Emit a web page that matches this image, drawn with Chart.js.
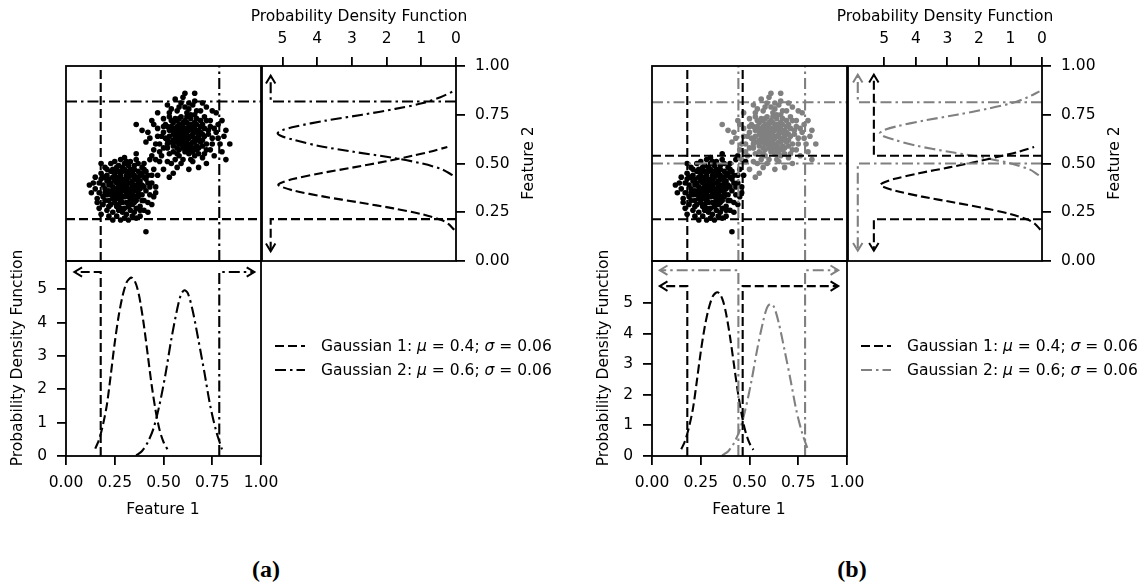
<!DOCTYPE html>
<html>
<head>
<meta charset="utf-8">
<script src="https://cdn.jsdelivr.net/npm/chart.js@4.4.1/dist/chart.umd.min.js"></script>
<style>
  body { margin: 0; width: 1141px; height: 588px; position: relative; overflow: hidden; background: #fff; font-family: "DejaVu Sans", sans-serif; }
  canvas { position: absolute; }
  .txt { position: absolute; font-size: 15.5px; white-space: nowrap; color: #000; transform: translate(-50%, -50%); }
  .rot { transform: translate(-50%, -50%) rotate(-90deg); }
  .leg { position: absolute; font-size: 15.5px; white-space: nowrap; display: flex; align-items: center; height: 20px; }
  .leg svg { margin-right: 16px; }
  .cap { position: absolute; transform: translate(-50%, -50%); font-family: "Liberation Serif", "DejaVu Serif", serif; font-weight: bold; font-size: 24px; }
</style>
</head>
<body>
<script>
// ---- scatter samples (Feature 1, Feature 2), same samples in both panels ----
const CLUSTER1 = [
  [0.31,0.38],[0.27,0.42],[0.35,0.33],[0.22,0.36],[0.29,0.30],[0.38,0.41],[0.25,0.45],[0.33,0.47],[0.19,0.39],[0.30,0.27],
  [0.36,0.36],[0.24,0.32],[0.28,0.35],[0.32,0.43],[0.40,0.38],[0.21,0.44],[0.26,0.28],[0.34,0.29],[0.17,0.35],[0.30,0.50],
  [0.37,0.46],[0.23,0.40],[0.29,0.39],[0.33,0.37],[0.27,0.33],[0.42,0.44],[0.20,0.31],[0.31,0.24],[0.25,0.37],[0.36,0.31],
  [0.28,0.44],[0.34,0.41],[0.22,0.28],[0.39,0.34],[0.26,0.48],[0.32,0.33],[0.30,0.36],[0.18,0.42],[0.35,0.44],[0.24,0.25],
  [0.29,0.46],[0.41,0.36],[0.27,0.38],[0.33,0.26],[0.21,0.34],[0.37,0.39],[0.25,0.41],[0.31,0.30],[0.15,0.37],[0.44,0.40],
  [0.28,0.31],[0.35,0.49],[0.23,0.46],[0.32,0.40],[0.19,0.29],[0.38,0.28],[0.26,0.35],[0.30,0.42],[0.34,0.35],[0.22,0.39],
  [0.29,0.33],[0.36,0.42],[0.24,0.43],[0.40,0.31],[0.27,0.29],[0.31,0.46],[0.20,0.37],[0.33,0.31],[0.37,0.35],[0.25,0.30],
  [0.28,0.40],[0.16,0.32],[0.34,0.38],[0.30,0.33],[0.23,0.34],[0.39,0.45],[0.26,0.43],[0.32,0.28],[0.21,0.41],[0.35,0.39],
  [0.43,0.34],[0.27,0.46],[0.29,0.25],[0.18,0.45],[0.33,0.44],[0.24,0.38],[0.36,0.27],[0.30,0.39],[0.22,0.31],[0.38,0.37],
  [0.26,0.32],[0.31,0.35],[0.14,0.40],[0.35,0.33],[0.28,0.42],[0.41,0.42],[0.23,0.29],[0.32,0.49],[0.19,0.33],[0.37,0.43],
  [0.25,0.35],[0.46,0.38],[0.29,0.37],[0.34,0.32],[0.20,0.43],[0.27,0.36],[0.39,0.39],[0.31,0.41],[0.24,0.47],[0.33,0.34],
  [0.45,0.47],[0.40,0.50],[0.43,0.52],[0.36,0.52],[0.47,0.44],[0.13,0.35],[0.17,0.27],[0.22,0.23],[0.28,0.21],[0.34,0.23],
  [0.40,0.26],[0.41,0.15],[0.30,0.53],[0.25,0.51],[0.20,0.48],[0.15,0.43],[0.42,0.30],[0.38,0.23],[0.32,0.21],[0.26,0.23],
  [0.44,0.54],[0.48,0.51],[0.36,0.55],[0.18,0.50],[0.12,0.39],[0.27,0.26],[0.35,0.25],[0.40,0.47],[0.21,0.26],[0.45,0.33],
  [0.33,0.40],[0.35,0.42],[0.31,0.44],[0.37,0.40],[0.29,0.41],[0.34,0.45],[0.36,0.38],[0.32,0.36],[0.38,0.44],[0.30,0.47],
  [0.27,0.49],[0.33,0.51],[0.39,0.48],[0.41,0.46],[0.35,0.47],[0.28,0.52],[0.23,0.50],[0.21,0.47],[0.19,0.43],[0.17,0.40],
  [0.16,0.30],[0.18,0.24],[0.24,0.21],[0.30,0.22],[0.36,0.22],[0.42,0.25],[0.44,0.29],[0.46,0.35],[0.43,0.38],[0.39,0.31],
  [0.37,0.33],[0.34,0.36],[0.31,0.39],[0.26,0.40],[0.22,0.42],[0.25,0.33],[0.28,0.27],[0.33,0.29],[0.38,0.26],[0.35,0.30],
  [0.32,0.45],[0.29,0.48],[0.26,0.46],[0.24,0.36],[0.20,0.35],[0.40,0.43],[0.42,0.40],[0.44,0.44],[0.37,0.50],[0.31,0.51]
];
const CLUSTER2 = [
  [0.60,0.64],[0.56,0.68],[0.64,0.60],[0.52,0.62],[0.58,0.57],[0.67,0.66],[0.62,0.71],[0.55,0.59],[0.70,0.62],[0.59,0.74],
  [0.63,0.55],[0.50,0.66],[0.57,0.63],[0.65,0.69],[0.61,0.60],[0.54,0.72],[0.68,0.58],[0.60,0.68],[0.48,0.60],[0.66,0.75],
  [0.53,0.55],[0.62,0.65],[0.58,0.70],[0.71,0.68],[0.56,0.61],[0.64,0.52],[0.59,0.62],[0.51,0.70],[0.69,0.72],[0.61,0.56],
  [0.66,0.63],[0.55,0.65],[0.73,0.65],[0.57,0.77],[0.62,0.61],[0.49,0.64],[0.65,0.58],[0.60,0.71],[0.53,0.67],[0.67,0.70],
  [0.58,0.54],[0.72,0.60],[0.56,0.73],[0.63,0.67],[0.60,0.58],[0.47,0.68],[0.68,0.64],[0.54,0.61],[0.64,0.73],[0.59,0.66],
  [0.75,0.63],[0.52,0.58],[0.61,0.79],[0.66,0.54],[0.57,0.66],[0.70,0.70],[0.55,0.56],[0.63,0.63],[0.50,0.73],[0.62,0.57],
  [0.68,0.67],[0.59,0.69],[0.74,0.69],[0.56,0.64],[0.65,0.61],[0.53,0.76],[0.61,0.66],[0.67,0.59],[0.58,0.60],[0.71,0.74],
  [0.54,0.69],[0.64,0.70],[0.60,0.62],[0.77,0.66],[0.57,0.58],[0.62,0.76],[0.51,0.63],[0.69,0.61],[0.66,0.68],[0.55,0.71],
  [0.63,0.58],[0.59,0.81],[0.72,0.57],[0.58,0.67],[0.48,0.56],[0.65,0.65],[0.61,0.72],[0.56,0.52],[0.70,0.65],[0.60,0.59],
  [0.53,0.64],[0.67,0.73],[0.62,0.68],[0.57,0.61],[0.79,0.60],[0.64,0.64],[0.52,0.69],[0.68,0.55],[0.58,0.73],[0.61,0.63],
  [0.74,0.72],[0.55,0.62],[0.66,0.71],[0.60,0.66],[0.50,0.58],[0.63,0.78],[0.69,0.66],[0.57,0.69],[0.65,0.56],[0.59,0.60],
  [0.36,0.70],[0.42,0.66],[0.41,0.61],[0.45,0.57],[0.44,0.72],[0.47,0.76],[0.52,0.80],[0.56,0.83],[0.61,0.86],[0.66,0.82],
  [0.72,0.79],[0.77,0.76],[0.80,0.72],[0.82,0.67],[0.80,0.56],[0.82,0.52],[0.76,0.54],[0.72,0.50],[0.68,0.48],[0.63,0.47],
  [0.57,0.48],[0.52,0.51],[0.46,0.52],[0.50,0.47],[0.60,0.52],[0.70,0.53],[0.78,0.70],[0.54,0.78],[0.65,0.80],[0.69,0.77],
  [0.53,0.43],[0.55,0.45],
  [0.61,0.65],[0.63,0.69],[0.58,0.64],[0.66,0.61],[0.60,0.70],[0.64,0.75],[0.57,0.72],[0.69,0.69],[0.55,0.67],[0.62,0.59],
  [0.68,0.62],[0.71,0.64],[0.73,0.67],[0.75,0.60],[0.78,0.63],[0.76,0.68],[0.72,0.72],[0.67,0.77],[0.63,0.81],[0.58,0.79],
  [0.53,0.74],[0.50,0.69],[0.47,0.64],[0.46,0.60],[0.49,0.54],[0.54,0.50],[0.59,0.50],[0.65,0.51],[0.71,0.55],[0.74,0.57],
  [0.62,0.63],[0.59,0.68],[0.65,0.67],[0.56,0.62],[0.61,0.58],[0.67,0.57],[0.70,0.59],[0.64,0.56],[0.57,0.55],[0.52,0.60],
  [0.84,0.60],[0.81,0.64],[0.43,0.63],[0.39,0.67],[0.45,0.70],[0.60,0.84],[0.70,0.81],[0.75,0.77],[0.66,0.86],[0.62,0.74]
];

// ---- fitted densities along Feature 1 (bottom plots) ----
const F1_G1_X   = [0.15, 0.17, 0.19, 0.21, 0.23, 0.25, 0.27, 0.29, 0.31, 0.325, 0.337, 0.35, 0.365, 0.38, 0.40, 0.42, 0.44, 0.46, 0.48, 0.50, 0.52];
const F1_G1_PDF = [0.22, 0.50, 0.95, 1.55, 2.45, 3.40, 4.20, 4.80, 5.20, 5.32, 5.35, 5.28, 5.05, 4.65, 3.90, 3.00, 2.10, 1.35, 0.78, 0.42, 0.20];
const F1_G2_X   = [0.36, 0.39, 0.42, 0.45, 0.48, 0.51, 0.54, 0.57, 0.59, 0.607, 0.625, 0.65, 0.68, 0.71, 0.74, 0.77, 0.80];
const F1_G2_PDF = [0.02, 0.15, 0.42, 0.85, 1.55, 2.45, 3.50, 4.40, 4.85, 4.97, 4.88, 4.35, 3.45, 2.50, 1.50, 0.75, 0.20];

// ---- fitted densities along Feature 2 (right plots) ----
const F2_G1_Y   = [0.16, 0.19, 0.21, 0.24, 0.27, 0.30, 0.33, 0.36, 0.38, 0.39, 0.40, 0.42, 0.45, 0.48, 0.51, 0.54, 0.56, 0.585];
const F2_G1_PDF = [0.05, 0.22, 0.42, 0.98, 1.80, 2.78, 3.80, 4.65, 5.02, 5.12, 5.05, 4.70, 3.90, 2.95, 2.05, 1.25, 0.75, 0.25];
const F2_G2_Y   = [0.44, 0.47, 0.50, 0.53, 0.56, 0.59, 0.62, 0.64, 0.655, 0.67, 0.69, 0.72, 0.75, 0.78, 0.81, 0.84, 0.87];
const F2_G2_PDF = [0.10, 0.40, 0.98, 1.85, 2.95, 3.95, 4.65, 5.02, 5.14, 5.02, 4.62, 3.75, 2.70, 1.75, 0.95, 0.45, 0.08];

// ---- decision cuts: value, feature, gaussian, arrow level (pdf), arrow tip ----
const A_CUT_VALUE   = [0.178, 0.786, 0.215, 0.818];
const A_CUT_FEATURE = [1, 1, 2, 2];
const A_CUT_GAUSS   = [1, 2, 1, 2];
const A_CUT_LEVEL   = [5.52, 5.52, 5.34, 5.34];
const A_CUT_TIP     = [0.043, 0.966, 0.05, 0.95];

const B_CUT_VALUE   = [0.181, 0.465, 0.443, 0.785, 0.214, 0.540, 0.500, 0.814];
const B_CUT_FEATURE = [1, 1, 1, 1, 2, 2, 2, 2];
const B_CUT_GAUSS   = [1, 1, 2, 2, 1, 1, 2, 2];
const B_CUT_LEVEL   = [5.55, 5.55, 6.07, 6.07, 5.33, 5.33, 5.84, 5.84];
const B_CUT_TIP     = [0.04, 0.955, 0.04, 0.955, 0.053, 0.955, 0.053, 0.955];

// pdf axis limits: [bottom plot y max, right plot x max]
const A_PDF_MAX = [5.85, 5.59];
const B_PDF_MAX = [6.37, 6.15];
const PDF_TICKS_MAX = 5;

const PDF_TITLE = 'Probability Density Function';
const LEGEND_LABELS = ['Gaussian 1: <i>μ</i> = 0.4; <i>σ</i> = 0.06', 'Gaussian 2: <i>μ</i> = 0.6; <i>σ</i> = 0.06'];

Chart.defaults.font.family = '"DejaVu Sans", sans-serif';
Chart.defaults.font.size = 15.5;
Chart.defaults.color = '#000';

const BLACK = '#000000', GREY = '#808080';
const DASH = [9, 4], DASHDOT = [11, 4, 2.5, 4];

const framePlugin = {
  id: 'frame',
  afterDatasetsDraw(chart) {
    const { ctx, chartArea: a } = chart;
    ctx.save();
    ctx.lineWidth = 1.8;
    ctx.strokeStyle = '#000';
    ctx.setLineDash([]);
    ctx.strokeRect(a.left, a.top, a.right - a.left, a.bottom - a.top);
    ctx.restore();
  }
};

// open arrow head at the last point of datasets flagged with arrow: true
const arrowPlugin = {
  id: 'arrowHeads',
  afterDatasetsDraw(chart) {
    const ctx = chart.ctx;
    chart.data.datasets.forEach((ds, i) => {
      if (!ds.arrow) return;
      const pts = chart.getDatasetMeta(i).data;
      const p = pts[pts.length - 1], q = pts[pts.length - 2];
      const ang = Math.atan2(p.y - q.y, p.x - q.x);
      const L = 9, W = 0.55;
      ctx.save();
      ctx.strokeStyle = ds.borderColor;
      ctx.lineWidth = 2;
      ctx.setLineDash([]);
      ctx.beginPath();
      ctx.moveTo(p.x - L * Math.cos(ang - W), p.y - L * Math.sin(ang - W));
      ctx.lineTo(p.x, p.y);
      ctx.lineTo(p.x - L * Math.cos(ang + W), p.y - L * Math.sin(ang + W));
      ctx.stroke();
      ctx.restore();
    });
  }
};

function zeroPad(s) { s.paddingLeft = s.paddingRight = s.paddingTop = s.paddingBottom = 0; }

function hiddenAxis(min, max) {
  return { type: 'linear', min, max, display: false, afterFit: zeroPad };
}

function axis(position, min, max, step, size, opts) {
  return {
    type: 'linear', position, min, max, reverse: !!opts.reverse,
    afterFit: s => { if (s.isHorizontal()) s.height = size; else s.width = size; zeroPad(s); },
    border: { display: false },
    grid: { display: true, drawOnChartArea: false, drawTicks: true, tickLength: 9, tickWidth: 1.8, lineWidth: 1.8, color: '#000' },
    ticks: { stepSize: step, includeBounds: false, padding: opts.tickPad, maxRotation: 0, autoSkip: false, color: '#000', callback: opts.fmt },
    title: { display: false }
  };
}

const fmt2 = v => v.toFixed(2);
const fmtPdf = v => (v <= PDF_TICKS_MAX + 1e-9 ? String(Math.round(v)) : null);

function lineDs(points, color, dash, extra) {
  return Object.assign({ data: points, showLine: true, borderColor: color, backgroundColor: color, borderWidth: 2.1,
    borderDash: dash, pointRadius: 0, tension: 0 }, extra || {});
}

function makeChart(area, m, pad, datasets, scales) {
  const c = document.createElement('canvas');
  c.width = area.w + m.l + m.r;
  c.height = area.h + m.t + m.b;
  c.style.left = (area.x - m.l) + 'px';
  c.style.top = (area.y - m.t) + 'px';
  document.body.appendChild(c);
  return new Chart(c, {
    type: 'scatter',
    data: { datasets },
    options: {
      responsive: false, animation: false, events: [],
      layout: { padding: pad },
      plugins: { legend: { display: false }, tooltip: { enabled: false } },
      scales
    },
    plugins: [arrowPlugin, framePlugin]
  });
}

function addText(html, x, y, cls) {
  const d = document.createElement('div');
  d.className = cls;
  d.innerHTML = html;
  d.style.left = x + 'px';
  d.style.top = y + 'px';
  document.body.appendChild(d);
  return d;
}

function buildPanel(ox, cut, pdfMax, twoColours, caption) {
  const colG = g => (twoColours && g === 2 ? GREY : BLACK);
  const dashG = g => (g === 1 ? DASH : DASHDOT);

  // scatter
  const sc = [];
  cut.value.forEach((v, i) => {
    const pts = cut.feature[i] === 1 ? [{ x: v, y: 0 }, { x: v, y: 1 }] : [{ x: 0, y: v }, { x: 1, y: v }];
    sc.push(lineDs(pts, colG(cut.gauss[i]), dashG(cut.gauss[i])));
  });
  sc.push({ data: CLUSTER1.map(p => ({ x: p[0], y: p[1] })), pointRadius: 2.8, pointBorderWidth: 0, backgroundColor: BLACK });
  sc.push({ data: CLUSTER2.map(p => ({ x: p[0], y: p[1] })), pointRadius: 2.8, pointBorderWidth: 0, backgroundColor: colG(2) });
  makeChart({ x: 66 + ox, y: 66, w: 195, h: 195 }, { l: 4, r: 4, t: 4, b: 4 }, { left: 4, right: 4, top: 4, bottom: 4 },
    sc, { x: hiddenAxis(0, 1), y: hiddenAxis(0, 1) });

  // bottom: densities along Feature 1
  const bt = [];
  cut.value.forEach((v, i) => {
    if (cut.feature[i] !== 1) return;
    const lv = cut.level[i];
    bt.push(lineDs([{ x: v, y: 0 }, { x: v, y: lv }, { x: cut.tip[i], y: lv }], colG(cut.gauss[i]), dashG(cut.gauss[i]), { arrow: true }));
  });
  bt.push(lineDs(F1_G1_X.map((x, i) => ({ x, y: F1_G1_PDF[i] })), colG(1), DASH, { tension: 0.3 }));
  bt.push(lineDs(F1_G2_X.map((x, i) => ({ x, y: F1_G2_PDF[i] })), colG(2), DASHDOT, { tension: 0.3 }));
  makeChart({ x: 66 + ox, y: 261, w: 195, h: 195 }, { l: 40, r: 24, t: 4, b: 40 }, { left: 0, right: 24, top: 4, bottom: 0 },
    bt, {
      x: axis('bottom', 0, 1, 0.25, 40, { fmt: fmt2, tickPad: 9 }),
      y: axis('left', 0, pdfMax[0], 1, 40, { fmt: fmtPdf, tickPad: 10 })
    });

  // right: densities along Feature 2 (pdf on a reversed top axis)
  const rt = [];
  cut.value.forEach((v, i) => {
    if (cut.feature[i] !== 2) return;
    const lv = cut.level[i];
    rt.push(lineDs([{ x: 0, y: v }, { x: lv, y: v }, { x: lv, y: cut.tip[i] }], colG(cut.gauss[i]), dashG(cut.gauss[i]), { arrow: true }));
  });
  rt.push(lineDs(F2_G1_Y.map((y, i) => ({ x: F2_G1_PDF[i], y })), colG(1), DASH, { tension: 0.3 }));
  rt.push(lineDs(F2_G2_Y.map((y, i) => ({ x: F2_G2_PDF[i], y })), colG(2), DASHDOT, { tension: 0.3 }));
  makeChart({ x: 262 + ox, y: 66, w: 194, h: 195 }, { l: 4, r: 62, t: 40, b: 14 }, { left: 4, right: 0, top: 0, bottom: 14 },
    rt, {
      x: axis('top', 0, pdfMax[1], 1, 40, { fmt: fmtPdf, tickPad: 9, reverse: true }),
      y: axis('right', 0, 1, 0.25, 62, { fmt: fmt2, tickPad: 10 })
    });

  // axis titles
  addText(PDF_TITLE, 359 + ox, 16, 'txt');
  addText('Feature 2', 528 + ox, 163, 'txt rot');
  addText(PDF_TITLE, 17 + ox, 358, 'txt rot');
  addText('Feature 1', 163 + ox, 509, 'txt');

  // legend
  [1, 2].forEach((g, i) => {
    const col = colG(g);
    const dash = g === 1 ? '9,4' : '11,4,2.5,4';
    addText('<svg width="30" height="10"><line x1="0" y1="5" x2="30" y2="5" stroke="' + col + '" stroke-width="2.1" stroke-dasharray="' + dash + '"/></svg><span>' + LEGEND_LABELS[i] + '</span>',
      275 + ox, 336 + i * 24, 'leg');
  });

  addText(caption, 266 + ox, 569, 'cap');
}

buildPanel(0, { value: A_CUT_VALUE, feature: A_CUT_FEATURE, gauss: A_CUT_GAUSS, level: A_CUT_LEVEL, tip: A_CUT_TIP }, A_PDF_MAX, false, '(a)');
buildPanel(586, { value: B_CUT_VALUE, feature: B_CUT_FEATURE, gauss: B_CUT_GAUSS, level: B_CUT_LEVEL, tip: B_CUT_TIP }, B_PDF_MAX, true, '(b)');
</script>
</body>
</html>
